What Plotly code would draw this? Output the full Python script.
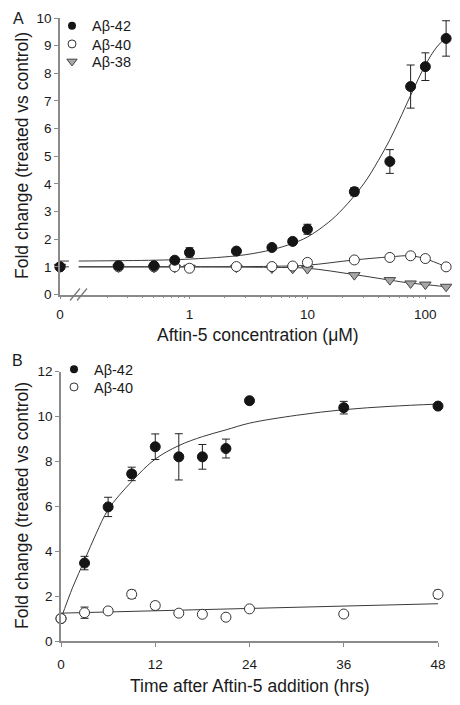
import math
import plotly.graph_objects as go

# ---------------- Panel A: dose response (Aftin-5 concentration, uM) ----------------
# 0 = untreated control, drawn at the origin of the broken log axis
conc = [0, 0.25, 0.5, 0.75, 1, 2.5, 5, 7.5, 10, 25, 50, 75, 100, 150]
a42_A = [1.0, 1.04, 1.04, 1.24, 1.52, 1.57, 1.70, 1.92, 2.36, 3.72, 4.81, 7.52, 8.24, 9.26]
a42_A_err = [0.03, 0.05, 0.05, 0.10, 0.17, 0.05, 0.05, 0.07, 0.18, 0.15, 0.43, 0.78, 0.50, 0.64]
a40_A = [1.0, 1.0, 1.0, 1.0, 0.95, 1.01, 1.01, 1.03, 1.16, 1.25, 1.34, 1.40, 1.30, 1.0]
a38_A = [1.0, 0.98, 0.97, 0.97, 0.97, 0.97, 0.94, 0.93, 0.92, 0.70, 0.52, 0.40, 0.36, 0.28]

# fitted curves; "0" segment + segment after the axis break
fit_A_zero_x = [0, 0.095]
fit42_A_zero_y = [1.21, 1.21]
fit40_A_zero_y = [1.0, 1.0]
fit42_A_x = [0.115, 0.5, 1, 2, 3, 5, 7.5, 10, 15, 20, 30, 40, 50, 60, 75, 100, 125, 150]
fit42_A_y = [1.21, 1.24, 1.28, 1.36, 1.44, 1.62, 1.85, 2.08, 2.6, 3.1, 4.0, 4.85, 5.6, 6.3, 7.2, 8.3, 8.95, 9.3]
fit40_A_x = [0.115, 1, 5, 10, 25, 50, 75, 100, 150]
fit40_A_y = [1.0, 1.0, 1.02, 1.06, 1.25, 1.36, 1.40, 1.29, 1.0]
fit38_A_x = [0.115, 1, 5, 10, 25, 50, 75, 100, 150]
fit38_A_y = [1.0, 1.0, 0.98, 0.95, 0.72, 0.52, 0.41, 0.36, 0.28]

tickvals_A = [0, 1, 10, 100]
ticktext_A = ["0", "1", "10", "100"]
minor_A = [0.2, 0.3, 0.4, 0.5, 0.6, 0.7, 0.8, 0.9, 2, 3, 4, 5, 6, 7, 8, 9,
           20, 30, 40, 50, 60, 70, 80, 90]

# ---------------- Panel B: time course (hrs) ----------------
time = [0, 3, 6, 9, 12, 15, 18, 21, 24, 36, 48]
a42_B = [1.0, 3.47, 5.97, 7.44, 8.65, 8.20, 8.20, 8.57, 10.70, 10.39, 10.46]
a42_B_err = [0, 0.30, 0.43, 0.30, 0.57, 1.03, 0.55, 0.42, 0.0, 0.28, 0.0]
a40_B = [1.0, 1.26, 1.34, 2.08, 1.58, 1.24, 1.19, 1.06, 1.43, 1.20, 2.08]
a40_B_err = [0, 0.25, 0.10, 0.18, 0.15, 0.05, 0.05, 0.05, 0.05, 0.05, 0.18]

fit42_B_t = [0, 1.5, 3, 4.5, 6, 9, 12, 15, 18, 21, 24, 30, 36, 42, 48]
fit42_B_y = [1.0, 2.4, 3.6, 4.8, 5.85, 7.1, 8.1, 8.7, 9.1, 9.4, 9.7, 10.05, 10.3, 10.45, 10.55]
fit40_B_t = [0, 48]
fit40_B_y = [1.24, 1.66]

# ---------------- styling ----------------
FONT = "Liberation Sans, Arial, sans-serif"
AXC = "#8a8a8a"
TXT = "#1a1a1a"
FITC = "#3a3a3a"
BLACK = "#151515"
GRAYFILL = "#a6a6a6"

XA0 = 10 ** -1.098  # where "0" sits on the broken log axis


def xa(v):
    return XA0 if v == 0 else v


fig = go.Figure()

# --- Panel A fits
for xs, ys in [(fit_A_zero_x, fit42_A_zero_y), (fit_A_zero_x, fit40_A_zero_y),
               (fit42_A_x, fit42_A_y), (fit40_A_x, fit40_A_y), (fit38_A_x, fit38_A_y)]:
    fig.add_trace(go.Scatter(x=[xa(v) for v in xs], y=ys, mode="lines",
                             line=dict(color=FITC, width=1, shape="spline"),
                             showlegend=False, hoverinfo="skip", xaxis="x", yaxis="y"))

err_style = dict(type="data", color="#222", thickness=1, width=4)

# --- Panel A data
fig.add_trace(go.Scatter(x=[xa(v) for v in conc], y=a38_A, mode="markers",
                         marker=dict(symbol="triangle-down", size=10, color=GRAYFILL,
                                     line=dict(color="#444", width=1)),
                         showlegend=False, cliponaxis=False, xaxis="x", yaxis="y"))
fig.add_trace(go.Scatter(x=[xa(v) for v in conc], y=a40_A, mode="markers",
                         marker=dict(symbol="circle", size=10, color="white",
                                     line=dict(color="#333", width=1)),
                         showlegend=False, cliponaxis=False, xaxis="x", yaxis="y"))
fig.add_trace(go.Scatter(x=[xa(v) for v in conc], y=a42_A, mode="markers",
                         error_y=dict(array=a42_A_err, **err_style),
                         marker=dict(symbol="circle", size=10, color=BLACK,
                                     line=dict(color=BLACK, width=1)),
                         showlegend=False, cliponaxis=False, xaxis="x", yaxis="y"))

mk42 = dict(symbol="circle", size=8, color=BLACK)
mk40 = dict(symbol="circle", size=8, color="white", line=dict(color="#333", width=1))
mk38 = dict(symbol="triangle-down", size=9, color=GRAYFILL, line=dict(color="#444", width=1))

# --- Panel A legend entries (one legend box per entry for exact spacing)
for nm, mk, lg in [("Aβ-42", mk42, "legend"), ("Aβ-40", mk40, "legend3"), ("Aβ-38", mk38, "legend4")]:
    fig.add_trace(go.Scatter(x=[None], y=[None], mode="markers", name=nm, legend=lg,
                             marker=mk, xaxis="x", yaxis="y"))

# --- Panel B fits
for xs, ys in [(fit42_B_t, fit42_B_y), (fit40_B_t, fit40_B_y)]:
    fig.add_trace(go.Scatter(x=xs, y=ys, mode="lines",
                             line=dict(color=FITC, width=1, shape="spline"),
                             showlegend=False, hoverinfo="skip", xaxis="x2", yaxis="y2"))

# --- Panel B data
fig.add_trace(go.Scatter(x=time, y=a42_B, mode="markers",
                         error_y=dict(array=a42_B_err, **err_style),
                         marker=dict(symbol="circle", size=10, color=BLACK,
                                     line=dict(color=BLACK, width=1)),
                         showlegend=False, cliponaxis=False, xaxis="x2", yaxis="y2"))
fig.add_trace(go.Scatter(x=time, y=a40_B, mode="markers",
                         error_y=dict(array=a40_B_err, **err_style),
                         marker=dict(symbol="circle", size=10, color="white",
                                     line=dict(color="#333", width=1)),
                         showlegend=False, cliponaxis=False, xaxis="x2", yaxis="y2"))

for nm, mk, lg in [("Aβ-42", mk42, "legend2"), ("Aβ-40", mk40, "legend5")]:
    fig.add_trace(go.Scatter(x=[None], y=[None], mode="markers", name=nm, legend=lg,
                             marker=mk, xaxis="x2", yaxis="y2"))

# The page body adds an 8 px margin, so the figure is 8 px smaller and coordinates
# (measured in window pixels) are shifted by that offset.
OFF = 8
W, H = 460 - OFF, 705 - OFF


def px(x):
    return (x - OFF) / W


def py(y):
    return (H - (y - OFF)) / H


axis_common = dict(showline=True, linecolor=AXC, linewidth=1.5, ticks="outside",
                   tickcolor=AXC, tickwidth=1, ticklen=4, showgrid=False, zeroline=False,
                   tickfont=dict(family=FONT, size=13.5, color=TXT))


def ann(text, x, y, size, angle=0):
    return dict(text=text, x=px(x), y=py(y), xref="paper", yref="paper", showarrow=False,
                xanchor="center", yanchor="middle", textangle=angle,
                font=dict(family=FONT, size=size, color=TXT))


def leg(x, ytop):
    return dict(x=px(x), y=py(ytop), xanchor="left", yanchor="top",
                font=dict(family=FONT, size=14.5, color=TXT), bgcolor="rgba(0,0,0,0)",
                tracegroupgap=0, itemclick=False, itemdoubleclick=False)


fig.update_layout(
    width=W, height=H, autosize=False,
    margin=dict(l=0, r=0, t=0, b=0, pad=0, autoexpand=False),
    paper_bgcolor="white", plot_bgcolor="white",
    font=dict(family=FONT, color=TXT),
    xaxis=dict(type="log", domain=[px(60), px(450)], range=[math.log10(XA0), 2.209],
               anchor="y", tickvals=[xa(v) for v in tickvals_A], ticktext=ticktext_A,
               ticklen=3, ticklabelstandoff=4,
               minor=dict(tickvals=minor_A, ticks="outside", ticklen=2, tickcolor=AXC),
               **{k: v for k, v in axis_common.items() if k != "ticklen"}),
    yaxis=dict(domain=[py(294.5), py(18)], range=[0, 10], dtick=1, anchor="x", **axis_common),
    xaxis2=dict(domain=[px(61), px(438)], range=[0, 48], dtick=12, anchor="y2",
                ticklabelstandoff=6, **axis_common),
    yaxis2=dict(domain=[py(641), py(371.5)], range=[0, 12], dtick=2, anchor="x2", **axis_common),
    legend=leg(52, 9.7),
    legend3=leg(52, 28),
    legend4=leg(52, 45.5),
    legend2=leg(54, 353.3),
    legend5=leg(54, 371),
    shapes=[
        dict(type="line", xref="paper", yref="paper", x0=px(70), y0=py(300.5),
             x1=px(80), y1=py(288.5), line=dict(color="#777", width=1.2)),
        dict(type="line", xref="paper", yref="paper", x0=px(77), y0=py(300.5),
             x1=px(87), y1=py(288.5), line=dict(color="#777", width=1.2)),
    ],
    annotations=[
        ann("A", 18, 18, 16),
        ann("B", 17, 360, 16),
        ann("Fold change (treated vs control)", 22, 156, 17.5, -90),
        ann("Fold change (treated vs control)", 22, 506, 17.5, -90),
        ann("Aftin-5 concentration (μM)", 258, 335, 17.5),
        ann("Time after Aftin-5 addition (hrs)", 250, 686, 17.5),
    ],
)

fig.write_html("out.html")
